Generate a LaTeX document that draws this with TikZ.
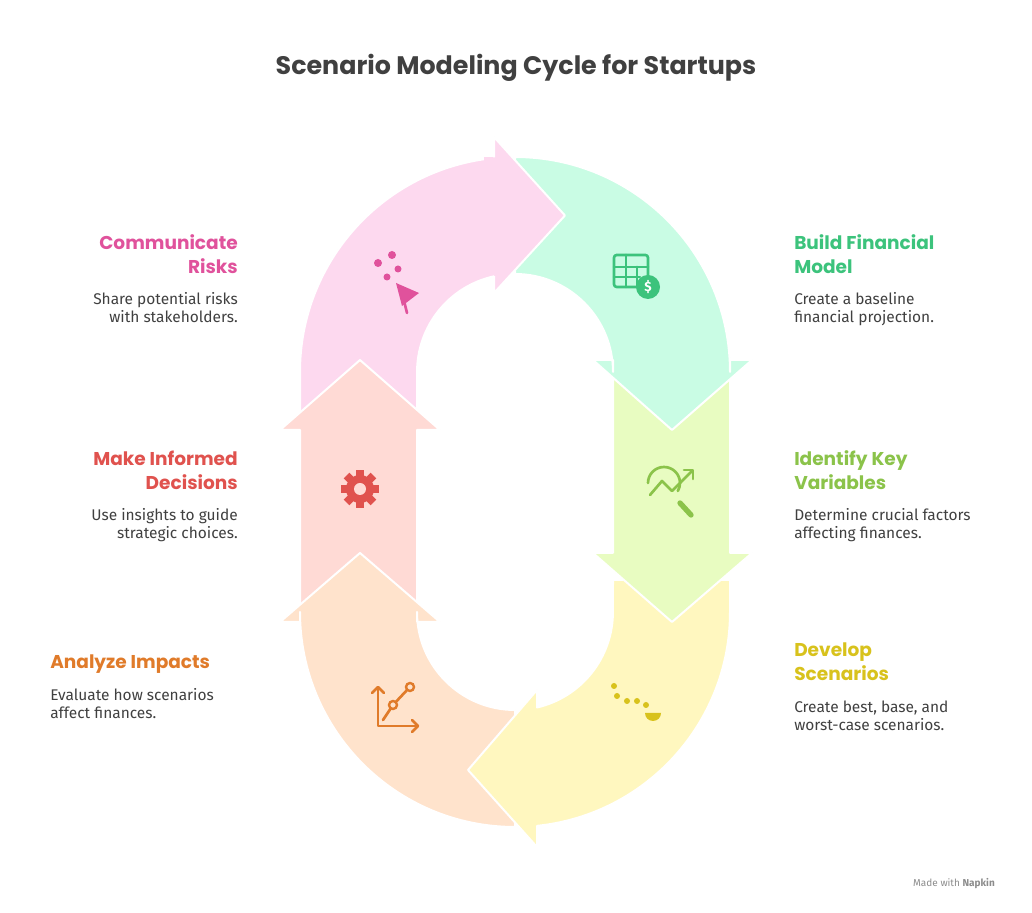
\documentclass[tikz,border=0pt]{standalone}
\usepackage{fontspec}
\setmainfont{Fira Sans}
\newfontfamily\headfont{Poppins}
\begin{document}
\begin{tikzpicture}[x=0.75pt,y=0.75pt,
  band/.style={draw=white,line width=1.5pt,line join=round},
  ttl/.style={font=\headfont\bfseries\fontsize{13.9}{18}\selectfont,inner xsep=0pt},
  body/.style={font=\fontsize{11.6}{13.5}\selectfont,text=black!75,inner xsep=0pt},
  ico/.style={line width=2pt,line cap=round,line join=round}]
\definecolor{cpink}{HTML}{FDD9EF}\definecolor{cgreen}{HTML}{C9FCE4}
\definecolor{clime}{HTML}{E8FCC1}\definecolor{cyellow}{HTML}{FFF7BF}
\definecolor{cpeach}{HTML}{FFE3CC}\definecolor{csalmon}{HTML}{FFDAD5}
\definecolor{tpink}{HTML}{E0529C}\definecolor{tgreen}{HTML}{3CC37C}
\definecolor{tlime}{HTML}{8BC34A}\definecolor{tyellow}{HTML}{D8C21C}
\definecolor{tpeach}{HTML}{E07B2A}\definecolor{tred}{HTML}{E0524E}
\useasboundingbox[fill=white] (0,0) rectangle (1032,913);
% pink
\fill[cpink,band] (300,483) -- (300,541) arc[start angle=180,end angle=95.6,radius=215] -- (494,776) -- (565,697.5) -- (494,620) -- (494,636.7) arc[start angle=102.4,end angle=180,radius=98] -- (417,483) -- cycle;
% salmon
\fill[csalmon,band] (300,291) -- (300,483) -- (280,483) -- (360,553) -- (440,483) -- (417,483) -- (417,291) -- cycle;
% peach
\fill[cpeach,band] (515,86) arc[start angle=-90,end angle=-180,radius=215] -- (300,291) -- (280,291) -- (360,360) -- (440,291) -- (417,291) -- (417,301) arc[start angle=180,end angle=270,radius=98] -- cycle;
% yellow
\fill[cyellow,band] (730,333) -- (730,301) arc[start angle=0,end angle=-84.1,radius=215] -- (537,66) -- (468,143) -- (537,223) -- (537,205.5) arc[start angle=-77,end angle=0,radius=98] -- (613,333) -- cycle;
% lime
\fill[clime,band] (613,555) -- (730,555) -- (730,360) -- (752,360) -- (672,291) -- (593,360) -- (613,360) -- cycle;
% green
\fill[cgreen,band] (515,756) arc[start angle=90,end angle=0,radius=215] -- (730,553) -- (752,553) -- (672,483) -- (593,553) -- (613,553) -- (613,541) arc[start angle=0,end angle=90,radius=98] -- cycle;
% pink head again
\fill[cpink] (494,776) -- (565,697.5) -- (494,620) -- cycle;
\fill[cpink] (484,638) rectangle (495,755.5);
\draw[white,line width=1.5pt,line join=round] (494,755.5) -- (494,776) -- (565,697.5) -- (494,620) -- (494,637);

% title
\node[font=\headfont\bfseries\fontsize{19}{22}\selectfont,text=black!75] (title) at (516,845) {Scenario Modeling Cycle for Startups};

% texts left
\node[ttl,text=tpink,align=right,anchor=north east] (h1) at (238,683) {Communicate\\Risks};
\node[body,align=right,anchor=north east] (b1) at (238,625) {Share potential risks\\with stakeholders.};
\node[ttl,text=tred,align=right,anchor=north east] (h2) at (238,467) {Make Informed\\Decisions};
\node[body,align=right,anchor=north east] (b2) at (238,409) {Use insights to guide\\strategic choices.};
\node[ttl,text=tpeach,align=left,anchor=north west] (h3) at (50,263) {Analyze Impacts};
\node[body,align=left,anchor=north west] (b3) at (50,229) {Evaluate how scenarios\\affect finances.};
% texts right
\node[ttl,text=tgreen,align=left,anchor=north west] (h4) at (794,683) {Build Financial\\Model};
\node[body,align=left,anchor=north west] (b4) at (794,625) {Create a baseline\\financial projection.};
\node[ttl,text=tlime,align=left,anchor=north west] (h5) at (794,467) {Identify Key\\Variables};
\node[body,align=left,anchor=north west] (b5) at (794,409) {Determine crucial factors\\affecting finances.};
\node[ttl,text=tyellow,align=left,anchor=north west] (h6) at (794,275) {Develop\\Scenarios};
\node[body,align=left,anchor=north west] (b6) at (794,217) {Create best, base, and\\worst-case scenarios.};

\node[font=\fontsize{7.5}{9}\selectfont,text=black!45] (mw) at (954,29) {Made with \textbf{Napkin}};

% icons
% pink: confetti megaphone
\fill[tpink] (378,650) circle (4) (392,658) circle (4) (387,636) circle (3.5) (398,644) circle (3.5);
\fill[tpink] (396,630) -- (419,620) -- (402,607) -- cycle;
\draw[tpink,ico] (404,612) -- (407,600);
% green: table + dollar
\draw[tgreen,ico,rounded corners=2] (614,626) rectangle (648,658);
\draw[tgreen,ico] (614,646) -- (648,646) (614,636) -- (640,636) (626,626) -- (626,658) (637,626) -- (637,646);
\fill[tgreen] (648,626) circle (12);
\node[text=white,font=\bfseries\fontsize{10}{10}\selectfont] (dl) at (648,626) {\$};
% lime: chart magnifier
\draw[tlime,ico] (648,430) arc[start angle=180,end angle=-30,radius=16];
\draw[tlime,ico] (650,418) -- (662,432) -- (672,422) -- (692,442);
\draw[tlime,ico] (684,443) -- (693,443) -- (693,434);
\draw[tlime,line width=4pt,line cap=round] (680,410) -- (691,398);
% red gear
\fill[tred] (360,424) circle (14);
\foreach \a in {0,45,...,315}{\fill[tred,rotate around={\a:(360,424)}] (356,436) rectangle (364,443);}
\fill[csalmon] (360,424) circle (6);
% yellow: dotted path
\fill[tyellow] (614,227) circle (3) (617,217) circle (3) (627,212) circle (3) (637,212) circle (3) (646,208) circle (3);
\fill[tyellow] (645,200) -- (661,200) arc[start angle=0,end angle=-180,radius=8] -- cycle;
% peach chart
\draw[tpeach,ico] (378,225) -- (378,187) -- (418,187);
\draw[tpeach,ico] (372,220) -- (378,226) -- (384,220) (412,193) -- (418,187) -- (412,181);
\draw[tpeach,ico] (383,193) -- (393,208) -- (408,224);
\draw[tpeach,line width=1.8pt,fill=cpeach] (393,208) circle (4) (410,226) circle (4);
\end{tikzpicture}
\end{document}
